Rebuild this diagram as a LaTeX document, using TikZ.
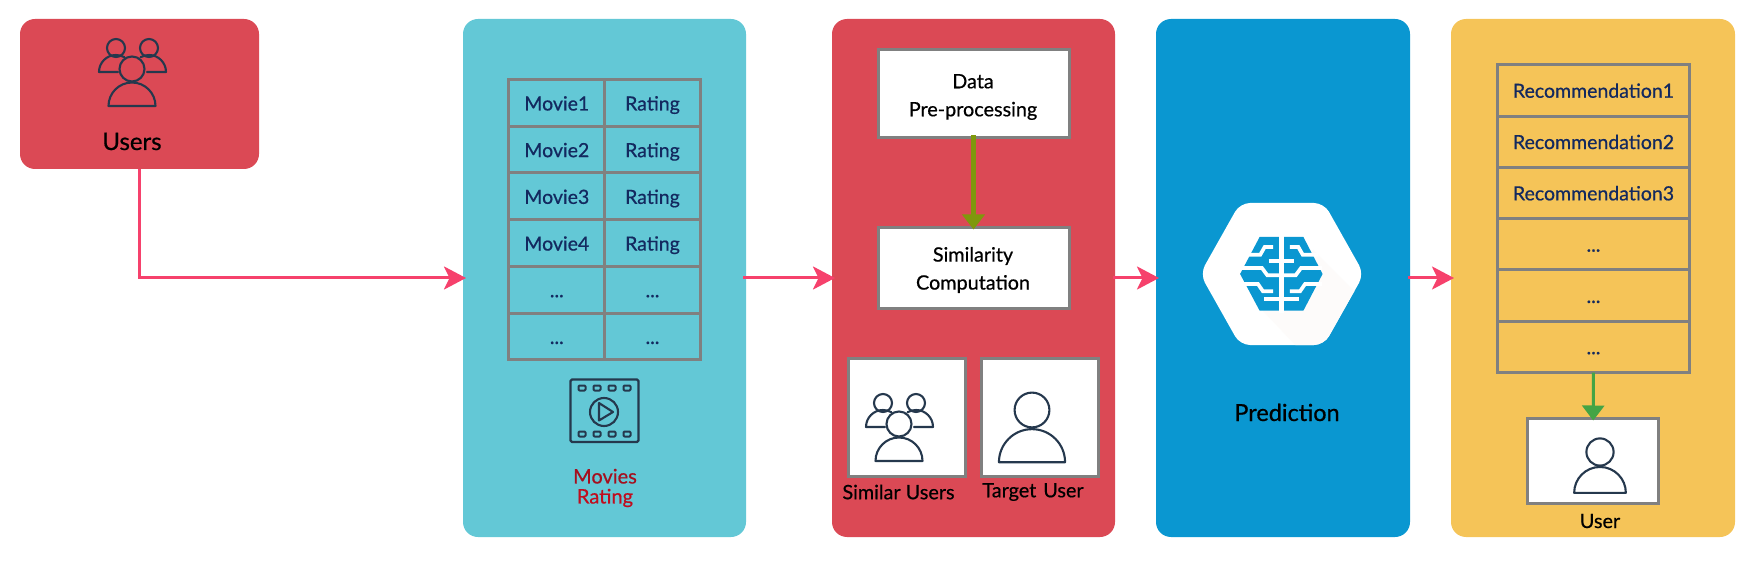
\documentclass[tikz,border=0pt]{standalone}
\usepackage{fontspec}
\setmainfont{Lato}[FakeBold=0.6]
\usetikzlibrary{arrows.meta}
\definecolor{cred}{HTML}{DB4955}
\definecolor{cteal}{HTML}{63C8D6}
\definecolor{cblue}{HTML}{0A97D1}
\definecolor{cyellow}{HTML}{F5C458}
\definecolor{cpink}{HTML}{F6416C}
\definecolor{cgray}{HTML}{808080}
\definecolor{cink}{HTML}{25384D}
\definecolor{cnavy}{HTML}{13295F}
\definecolor{colive}{HTML}{7F980C}
\definecolor{cgreen}{HTML}{44A445}
\definecolor{cshade}{HTML}{FDFBFA}
\newcommand{\dotsrow}{{.}{.}{.}}
\tikzset{
  panel/.style={rounded corners=15pt,inner sep=0pt,outer sep=0pt,minimum height=#1},
  cellbox/.style={draw=cgray,line width=3pt,inner sep=0pt,outer sep=0pt,text=cnavy,
    font=\fontsize{19.5}{22}\selectfont,text height=19pt,text depth=4pt,align=center},
  whitebox/.style={draw=cgray,line width=3pt,fill=white,inner sep=0pt,outer sep=0pt},
  lbl/.style={inner sep=0pt,outer sep=0pt,align=center,text=black,font=\fontsize{19.8}{28}\selectfont},
  flow/.style={draw=cpink,line width=3pt,-{Stealth[length=22pt,width=23pt,inset=5.5pt]},shorten >=-3pt},
  inner arrow/.style={line width=#1,-{Triangle[length=15pt,width=22pt]},shorten >=-2pt},
  icon/.style={draw=cink,line width=2.1pt,line join=round,line cap=round},
  person/.pic={
    \draw[icon] (0,0) circle (1);
    \draw[icon] (-1.9,3) arc[start angle=180,end angle=360,radius=1.9] -- cycle;
  },
  people/.pic={
    \draw[icon] (0,0) circle (12.5);
    \draw[icon] (-23.5,37) arc[start angle=180,end angle=360,radius=23.5] -- cycle;
    \draw[icon] (-16,-21) circle (9);
    \draw[icon] (17,-21) circle (9);
    \draw[icon] (-14,3) -- (-33,3) arc[start angle=180,end angle=300,radius=17];
    \draw[icon] (15,3) -- (34,3) arc[start angle=0,end angle=-120,radius=17];
  }
}
\begin{document}
\begin{tikzpicture}[x=1pt,y=-1pt]
\useasboundingbox (0,0) rectangle (1757,564);
% panels
\node[panel=150pt,fill=cred,minimum width=239pt] (users) at (139.5,94) {};
\node[panel=518pt,fill=cteal,minimum width=283pt] (movies) at (604.5,278) {};
\node[panel=518pt,fill=cred,minimum width=283pt] (sim) at (973.5,278) {};
\node[panel=518pt,fill=cblue,minimum width=254pt] (pred) at (1283,278) {};
\node[panel=518pt,fill=cyellow,minimum width=284pt] (rec) at (1593,278) {};
% users panel
\pic at (132,69) {people};
\node[lbl,font=\fontsize{24}{28}\selectfont,anchor=base] (userslabel) at (132,150) {Users};
% movie table
\foreach \r/\a/\b in {0/Movie1/Rating,1/Movie2/Rating,2/Movie3/Rating,3/Movie4/Rating,4/\dotsrow/\dotsrow,5/\dotsrow/\dotsrow}{
  \pgfmathsetmacro{\yy}{79.6+46.7*(\r+0.5)}
  \node[cellbox,minimum width=96.2pt,minimum height=46.7pt] (ma\r) at (556.8,\yy) {\a};
  \node[cellbox,minimum width=95.2pt,minimum height=46.7pt] (mb\r) at (652.5,\yy) {\b};
}
% film icon
\draw[icon,line width=2.3pt,rounded corners=1.5pt] (570.5,379.5) rectangle (638.5,442);
\foreach \hx in {582,597,612,627}{
  \draw[icon,line width=2pt,rounded corners=1pt] (\hx-3.5,385.5) rectangle (\hx+3.5,390.5);
  \draw[icon,line width=2pt,rounded corners=1pt] (\hx-3.5,431.5) rectangle (\hx+3.5,436.5);
}
\draw[icon] (604,412) circle (14);
\draw[icon] (599,403) -- (613,412) -- (599,420.5) -- cycle;
\node[lbl,anchor=center,font=\fontsize{20}{20}\selectfont] (movieslabel) at (605,488)
  {\textcolor[HTML]{A50F1E}{Movies}\\\textcolor[HTML]{C00D1E}{Rating}};
% similarity panel
\node[whitebox,minimum width=191pt,minimum height=87.4pt] (data) at (973.5,93.5) {};
\node[whitebox,minimum width=191pt,minimum height=81pt] (simc) at (973.5,268) {};
\node[lbl] (datalabel) at (973,97) {Data\\Pre-processing};
\node[lbl] (simlabel) at (973,270) {Similarity\\Computation};
\node[whitebox,minimum width=117.5pt,minimum height=117.5pt] (simusers) at (907,417.5) {};
\node[whitebox,minimum width=117pt,minimum height=117.5pt] (target) at (1039.5,417.5) {};
\pic at (899,424) {people};
\pic[scale=17.4] at (1032,410) {person};
\node[lbl] (simuserslabel) at (898.5,492) {Similar Users};
\node[lbl] (targetlabel) at (1033,492) {Target\hspace{7pt}User};
\draw[colive,inner arrow=4.5pt,shorten <=-2pt] (data) -- (simc);
% prediction panel
\fill[white,rounded corners=10pt] (1200,274) -- (1240,203) -- (1324,203) -- (1364,274) -- (1324,345) -- (1240,345) -- cycle;
\begin{scope}
  \clip[rounded corners=10pt] (1200,274) -- (1240,203) -- (1324,203) -- (1364,274) -- (1324,345) -- (1240,345) -- cycle;
  \fill[cshade] (1313,250) -- (1370,307) -- (1370,350) -- (1300,350) -- (1263,311) -- cycle;
\end{scope}
\begin{scope}[shift={(1231,228)},scale=0.3333,xscale=1.01]
  \fill[cblue] (27,138) -- (85,27) -- (215,27) -- (272,138) -- (215,248) -- (85,248) -- cycle;
  \fill[white] (142.5,20) rectangle (157.5,255);
  \begin{scope}[draw=white,line width=3.7pt,line join=miter]
    \draw (125,57) -- (100,57) -- (87,80) -- (40,80);
    \draw (112,100) -- (150,100);
    \draw (30,120) -- (92,120) -- (108,142) -- (150,142);
    \draw (30,168) -- (80,168) -- (95,190) -- (125,190);
    \draw (98,213) -- (150,213);
    \draw (175,57) -- (200,57) -- (213,80) -- (260,80);
    \draw (150,100) -- (188,100);
    \draw (150,142) -- (192,142) -- (208,120) -- (270,120);
    \draw (175,190) -- (205,190) -- (220,168) -- (270,168);
    \draw (150,213) -- (202,213);
  \end{scope}
\end{scope}
\node[lbl,font=\fontsize{23.5}{28}\selectfont,anchor=base] (predlabel) at (1287,421) {Prediction};
% recommendations
\foreach \r/\a in {0/Recommendation1,1/Recommendation2,2/Recommendation3,3/\dotsrow,4/\dotsrow,5/\dotsrow}{
  \pgfmathsetmacro{\yy}{64.8+51.3*(\r+0.5)}
  \node[cellbox,minimum width=192pt,minimum height=51.3pt,text depth=4.4pt] (r\r) at (1593.5,\yy) {\a};
}
\node[whitebox,minimum width=131pt,minimum height=85pt] (ubox) at (1593,461) {};
\pic[scale=13.6] at (1600,452) {person};
\node[lbl] (ulabel) at (1600,521) {User};
\draw[cgreen,inner arrow=3pt] (r5) -- (ubox);
% main flow
\draw[flow] (users.south) |- (movies.west);
\draw[flow,shorten <=-3pt] (movies.east) -- (sim.west);
\draw[flow,shorten <=-2pt] (sim.east) -- (pred.west);
\draw[flow,shorten <=-2pt] (pred.east) -- (rec.west);
\end{tikzpicture}
\end{document}
